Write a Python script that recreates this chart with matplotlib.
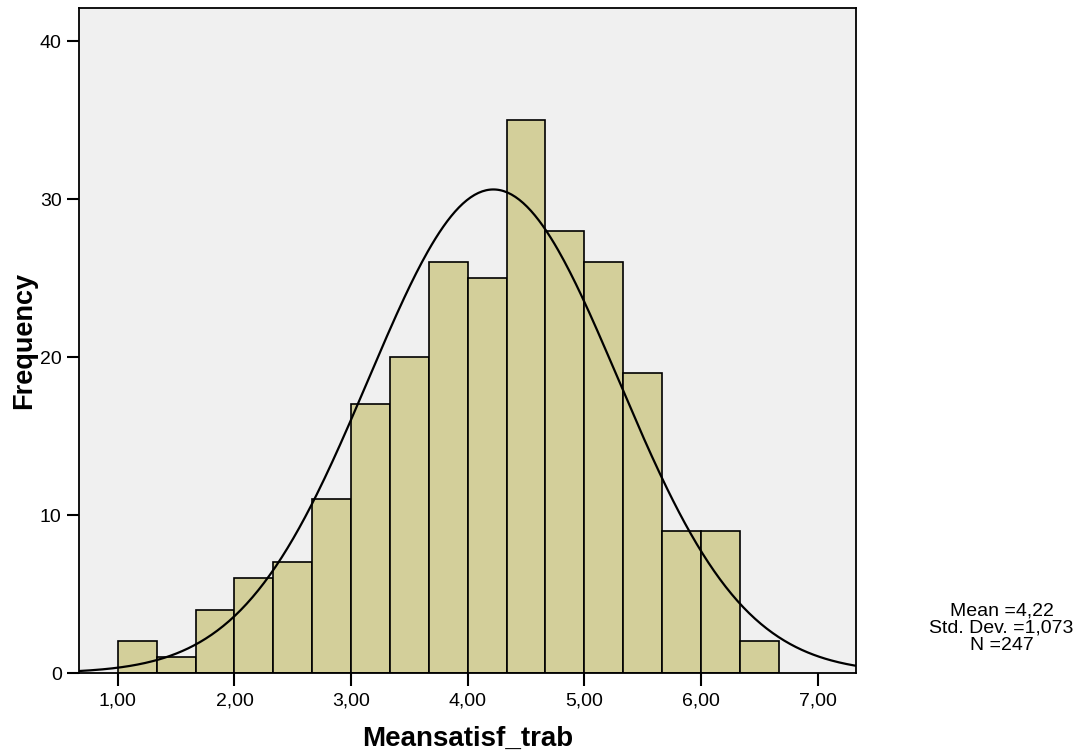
import numpy as np
import matplotlib.pyplot as plt

plt.rcParams['font.family'] = ['Liberation Sans', 'DejaVu Sans']

# histogram bins (width 1/3) and counts
bin_edges = [1 + i / 3 for i in range(18)]
counts = [2, 1, 4, 6, 7, 11, 17, 20, 26, 25, 35, 28, 26, 19, 9, 9, 2]
x_ticks = [1, 2, 3, 4, 5, 6, 7]
x_labels = ['1,00', '2,00', '3,00', '4,00', '5,00', '6,00', '7,00']
y_ticks = [0, 10, 20, 30, 40]
mean, sd, n = 4.22, 1.073, 247

fig = plt.figure(figsize=(10.84, 7.53), dpi=100)
ax = fig.add_axes([0.0729, 0.1062, 0.7171, 0.8832])
ax.set_facecolor('#f0f0f0')

lefts = np.array(bin_edges[:-1])
widths = np.diff(bin_edges)
ax.bar(lefts, counts, width=widths, align='edge', color='#d3cf9a',
       edgecolor='black', linewidth=1.2, zorder=2)

# normal curve scaled to the histogram
xs = np.linspace(0.667, 7.333, 400)
bw = 1 / 3
ys = n * bw / (sd * np.sqrt(2 * np.pi)) * np.exp(-0.5 * ((xs - mean) / sd) ** 2)
ax.plot(xs, ys, color='black', linewidth=1.6, zorder=3)

ax.set_xlim(0.667, 7.333)
ax.set_ylim(0, 42.1)
ax.set_xticks(x_ticks)
ax.set_xticklabels(x_labels)
ax.set_yticks(y_ticks)
ax.tick_params(axis='both', labelsize=14, length=9, width=1.5, direction='out')
ax.tick_params(axis='x', pad=5)
for s in ax.spines.values():
    s.set_linewidth(1.3)

ax.set_xlabel('Meansatisf_trab', fontsize=20, fontweight='bold', labelpad=12)
ax.set_ylabel('Frequency', fontsize=19.5, fontweight='bold', labelpad=2)

fig.text(0.924, 0.166, 'Mean =4,22\nStd. Dev. =1,073\nN =247',
         ha='center', va='center', fontsize=14, linespacing=1.0)

fig.savefig('out.png', dpi=100)
